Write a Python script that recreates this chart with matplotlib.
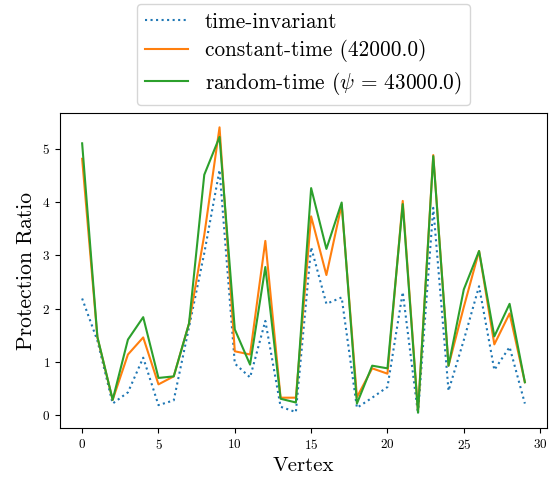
import matplotlib
matplotlib.use('Agg')
import matplotlib.pyplot as plt
import numpy as np

plt.rcParams['font.family'] = 'serif'
plt.rcParams['font.serif'] = ['cmr10']
plt.rcParams['mathtext.fontset'] = 'cm'
plt.rcParams['axes.unicode_minus'] = False
plt.rcParams['axes.formatter.use_mathtext'] = True

vertices = np.arange(30)

time_invariant = [2.19, 1.40, 0.22, 0.43, 1.08, 0.19, 0.28, 1.65, 3.04, 4.60,
                  0.97, 0.71, 1.77, 0.16, 0.06, 3.15, 2.09, 2.21, 0.14, 0.33,
                  0.53, 2.31, 0.03, 3.89, 0.46, 1.41, 2.42, 0.85, 1.28, 0.22]
constant_time = [4.81, 1.46, 0.29, 1.14, 1.46, 0.58, 0.73, 1.72, 3.38, 5.40,
                 1.20, 1.14, 3.27, 0.33, 0.33, 3.73, 2.63, 3.95, 0.34, 0.88,
                 0.78, 4.02, 0.08, 4.88, 0.93, 2.03, 3.08, 1.33, 1.91, 0.62]
random_time = [5.10, 1.47, 0.29, 1.42, 1.84, 0.70, 0.73, 1.72, 4.51, 5.22,
               1.61, 0.95, 2.78, 0.31, 0.24, 4.26, 3.12, 3.99, 0.22, 0.93,
               0.88, 3.96, 0.05, 4.86, 0.93, 2.36, 3.08, 1.48, 2.09, 0.62]

fig = plt.figure(figsize=(5.52, 4.78), dpi=100)
ax = fig.add_axes([60/552, 1 - 428/478, 487/552, 315/478])

ax.plot(vertices, time_invariant, ls=':', label='time-invariant')
ax.plot(vertices, constant_time, label='constant-time (42000.0)')
ax.plot(vertices, random_time, label=r'random-time ($\psi$ = 43000.0)')

ax.set_xlabel('Vertex', fontsize=15)
ax.set_ylabel('Protection Ratio', fontsize=15.5)
ax.tick_params(labelsize=9.5)

ax.legend(loc='lower center', bbox_to_anchor=(0.5, 1.025), borderaxespad=0,
          fontsize=15.3, labelspacing=0.35)

fig.savefig('out.png', dpi=100)
